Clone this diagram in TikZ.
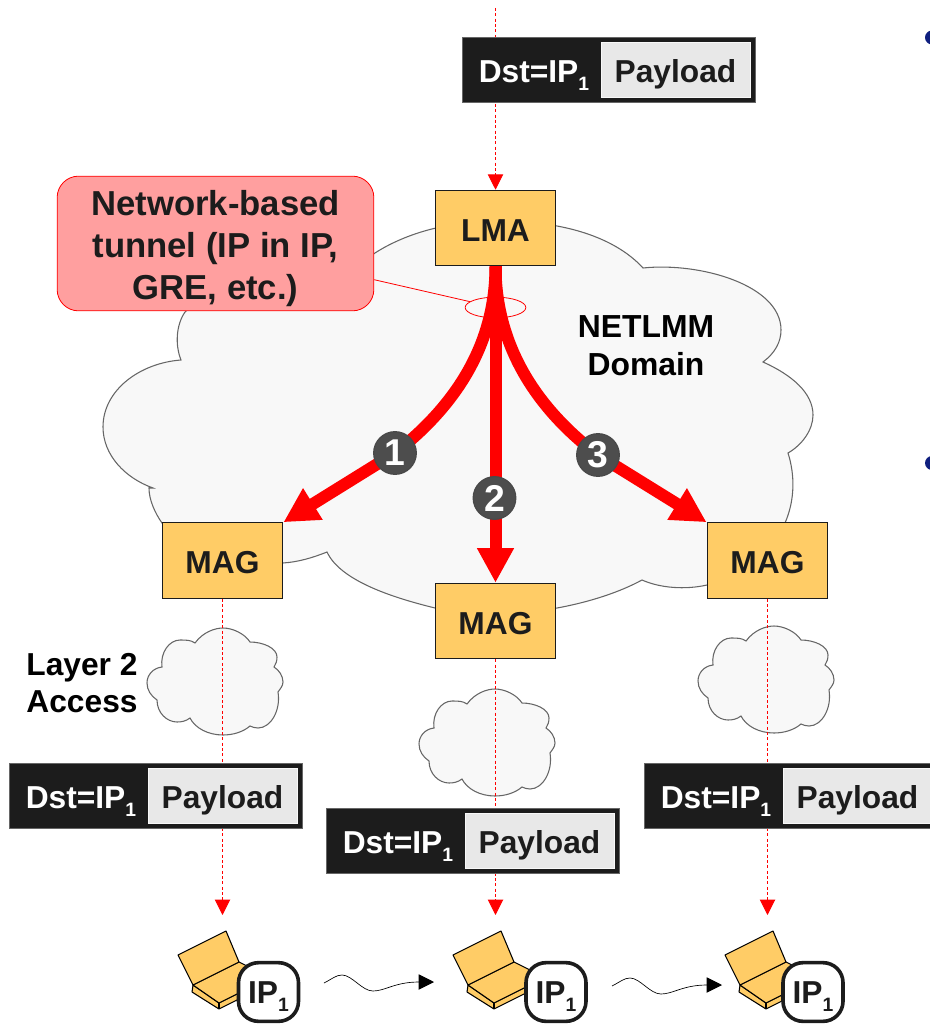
\documentclass[tikz,border=0pt]{standalone}
\usepackage{fontspec}
\setmainfont{Liberation Sans}
\usetikzlibrary{arrows.meta}
\usetikzlibrary{positioning}
\usetikzlibrary{shapes.geometric}
\definecolor{boxfill}{HTML}{FFCC66}
\definecolor{boxtext}{HTML}{1C1C1C}
\definecolor{cloudfill}{HTML}{F8F8F8}
\definecolor{cloudline}{HTML}{666666}
\definecolor{calloutfill}{HTML}{FF9F9F}
\definecolor{payfill}{HTML}{E8E8E8}
\definecolor{badgefill}{HTML}{4D4D4D}
\definecolor{bulletfill}{HTML}{0F1F7F}
\newcommand{\subone}{\raisebox{-6pt}{\fontsize{14.5}{14.5}\selectfont 1}}
\tikzset{
  labelfont/.style={font=\fontsize{23.8}{28}\selectfont\bfseries},
  agent/.style={draw=boxtext, line width=0.9pt, fill=boxfill, text=boxtext, labelfont,
    minimum width=90.5pt, minimum height=56.5pt, inner sep=0pt, text height=19.5pt, text depth=0pt},
  pktbox/.style={draw=cloudline, line width=0.4pt, fill=boxtext, minimum width=219.5pt, minimum height=49pt, inner sep=0pt},
  paybox/.style={draw=cloudfill, line width=0.4pt, fill=payfill, text=boxtext, labelfont,
    minimum width=111.5pt, minimum height=41.5pt, inner sep=0pt, text height=18.5pt, text depth=0pt},
  dstlabel/.style={text=white, labelfont, minimum width=104pt, inner sep=0pt, text height=18.5pt, text depth=0pt},
  plain/.style={text=black, labelfont, align=center, inner sep=0pt},
  ipbadge/.style={draw=boxtext, line width=2.7pt, fill=white, text=boxtext, rounded corners=15pt, labelfont,
    minimum width=45pt, minimum height=44pt, inner sep=0pt, text height=17pt, text depth=0pt},
  numbadge/.style={circle, draw=boxtext!80!white, line width=0.9pt, fill=badgefill, text=white,
    font=\fontsize{28}{30}\selectfont\bfseries, minimum size=32pt, inner sep=0pt},
  tunnelline/.style={draw=red, line width=9pt, line join=round, -{Triangle[length=26pt,width=26pt]}},
  dataline/.style={draw=red, line width=0.7pt, dash pattern=on 2.2pt off 1.8pt, -{Triangle[length=11.5pt,width=11.5pt,fill=red]}},
  moveline/.style={draw=black, line width=0.5pt, -{Triangle[length=11.5pt,width=11.5pt,fill=black]}},
  cloudshape/.style={draw=cloudline, line width=0.8pt, fill=cloudfill},
  laptopline/.style={draw=black, line width=0.8pt, line join=round, fill=boxfill},
  smallcloud/.pic={
    \path [cloudshape] (-28,15) .. controls (-20,4) and (-8,0) .. (0,0) .. controls (10,0) and (22,6) .. (27,14)
      .. controls (40,14) and (54,20) .. (54,29) .. controls (54,33) and (53,36) .. (51,39)
      .. controls (56,42) and (60,48) .. (60,54) .. controls (60,58) and (57,61) .. (55,64)
      .. controls (58,82) and (48,100) .. (35,100) .. controls (32,100) and (29,99) .. (27,98)
      .. controls (20,104) and (10,107) .. (0,107) .. controls (-15,107) and (-28,100) .. (-33,90)
      .. controls (-37,93) and (-41,94) .. (-46,94) .. controls (-56,94) and (-66,85) .. (-66,72)
      .. controls (-72,68) and (-76,62) .. (-76,55) .. controls (-76,47) and (-70,40) .. (-61,39)
      .. controls (-63,25) and (-54,12) .. (-43,12) .. controls (-37,12) and (-32,12) .. (-28,15) -- cycle;
  },
  laptop/.pic={
    \path [laptopline] (15,30) -- (14,37) -- (41,54) -- (92,28.5) -- (92,22.5) -- (41,48) -- cycle;
    \draw [black, line width=0.8pt] (41,48) -- (41,54);
    \path [laptopline] (15,30) -- (61,7) -- (92,22.5) -- (41,48) -- cycle;
    \path [laptopline] (0,0) -- (48,-24) -- (61,7) -- (15,30) -- cycle;
  }
}
\begin{document}
\begin{tikzpicture}[x=0.75pt, y=-0.75pt]
  \useasboundingbox (0,0) rectangle (930,1024);
  \clip (0,0) rectangle (930,1024);

  \path [cloudshape] (181,360) .. controls (175,345) and (176,325) .. (185,312) .. controls (195,295) and (300,300) .. (340,285)
    .. controls (350,272) and (362,262) .. (375,253) .. controls (392,242) and (414,233) .. (436,228)
    .. controls (470,220) and (525,220) .. (557,226) .. controls (595,233) and (625,248) .. (643,268)
    .. controls (700,262) and (781,285) .. (781,330) .. controls (781,342) and (775,353) .. (763,362)
    .. controls (792,375) and (813,393) .. (813,415) .. controls (813,430) and (802,445) .. (788,453)
    .. controls (795,475) and (795,500) .. (785,523) .. controls (775,560) and (740,580) .. (707,585)
    .. controls (685,590) and (660,588) .. (642,580) .. controls (620,592) and (590,602) .. (557,608)
    .. controls (520,615) and (475,615) .. (435,608) .. controls (390,597) and (340,580) .. (327,552)
    .. controls (312,558) and (298,562) .. (283,563) .. controls (240,566) and (185,550) .. (162,523)
    .. controls (155,513) and (149,500) .. (149,488) -- (153,488)
    .. controls (125,478) and (103,455) .. (103,427) .. controls (103,390) and (140,363) .. (181,360) -- cycle;

  \node (lma) [agent] at (495.5,228) {LMA};
  \node (magA) [agent] at (222.5,560.5) {MAG};
  \node (magB) [agent] at (495.5,621) {MAG};
  \node (magC) [agent] at (767.5,560.5) {MAG};

  \pic (cloudA) at (223,628) {smallcloud};
  \pic (cloudB) at (495,689) {smallcloud};
  \pic (cloudC) at (774,626) {smallcloud};

  \coordinate (inflow) at (495.5,8);
  \coordinate (mnA) at (222.5,915);
  \coordinate (mnB) at (495.5,915);
  \coordinate (mnC) at (767.5,915);

  \draw [dataline] (inflow) -- (lma.north);
  \draw [dataline] (magA.south) -- (mnA);
  \draw [dataline] (magB.south) -- (mnB);
  \draw [dataline] (magC.south) -- (mnC);

  \node (pktT) [pktbox] at (608.5,70) {};
  \node (payT) [paybox, anchor=east] at ([xshift=-3.75pt]pktT.east) {Payload};
  \node (dstT) [dstlabel, left=-2pt of payT] {Dst=IP\subone};

  \node (pktA) [pktbox] at (155.5,796) {};
  \node (payA) [paybox, anchor=east] at ([xshift=-3.75pt]pktA.east) {Payload};
  \node (dstA) [dstlabel, left=-2pt of payA] {Dst=IP\subone};

  \node (pktB) [pktbox] at (472.5,841) {};
  \node (payB) [paybox, anchor=east] at ([xshift=-3.75pt]pktB.east) {Payload};
  \node (dstB) [dstlabel, left=-2pt of payB] {Dst=IP\subone};

  \node (pktC) [pktbox] at (790.5,796) {};
  \node (payC) [paybox, anchor=east] at ([xshift=-3.75pt]pktC.east) {Payload};
  \node (dstC) [dstlabel, left=-2pt of payC] {Dst=IP\subone};

  \node (callout) [draw=red, line width=0.6pt, fill=calloutfill, text=boxtext, rounded corners=16pt, align=center,
    font=\fontsize{26}{31.5}\selectfont\bfseries, minimum width=237.5pt, minimum height=101pt, inner sep=0pt] at (215.5,243.5)
    {\rule{0pt}{26pt}Network-based\\tunnel (IP in IP,\\GRE, etc.)};
  \node (tunnel) [ellipse, draw=red, line width=0.6pt, minimum width=45.5pt, minimum height=15.5pt, inner sep=0pt] at (495.5,307.5) {};
  \draw [draw=red, line width=0.6pt] (callout) -- (tunnel);

  \node (domain) [plain, font=\fontsize{23.9}{28.4}\selectfont\bfseries] at (646,345.5) {NETLMM\\Domain};
  \node (access) [plain] at (82,683) {Layer 2\\Access};

  \coordinate (bendA) at (395,453);
  \coordinate (bendC) at (598,455);
  \draw [tunnelline] (lma.south) .. controls (495.5,350) and (450,410) .. (bendA) -- (magA.north east);
  \draw [tunnelline] (lma.south) -- (magB.north);
  \draw [tunnelline] (lma.south) .. controls (495.5,350) and (541,412) .. (bendC) -- (magC.north west);

  \node (numA) [numbadge] at (bendA) {1};
  \node (numB) [numbadge] at (494.5,498) {2};
  \node (numC) [numbadge] at (bendC) {3};

  \pic (lapA) at (178,955) {laptop};
  \pic (lapB) at (453,955) {laptop};
  \pic (lapC) at (725,955) {laptop};

  \node (ipA) [ipbadge] at (268.5,992) {IP\subone};
  \node (ipB) [ipbadge] at (556,992) {IP\subone};
  \node (ipC) [ipbadge] at (813,992) {IP\subone};

  \coordinate (moveA) at (324,983);
  \coordinate (moveAend) at (434,982);
  \coordinate (moveB) at (612,986);
  \coordinate (moveBend) at (722,985);
  \draw [moveline] (moveA) .. controls (332,979) and (336,975) .. (342,975) .. controls (352,975) and (362,991) .. (373,991) .. controls (385,991) and (395,982) .. (moveAend);
  \draw [moveline] (moveB) .. controls (620,982) and (624,978) .. (630,978) .. controls (640,978) and (650,994) .. (661,994) .. controls (673,994) and (683,985) .. (moveBend);

  \node (bulletA) [circle, fill=bulletfill, minimum size=10.5pt, inner sep=0pt] at (932,37.5) {};
  \node (bulletB) [circle, fill=bulletfill, minimum size=10.5pt, inner sep=0pt] at (932,463) {};
\end{tikzpicture}
\end{document}
